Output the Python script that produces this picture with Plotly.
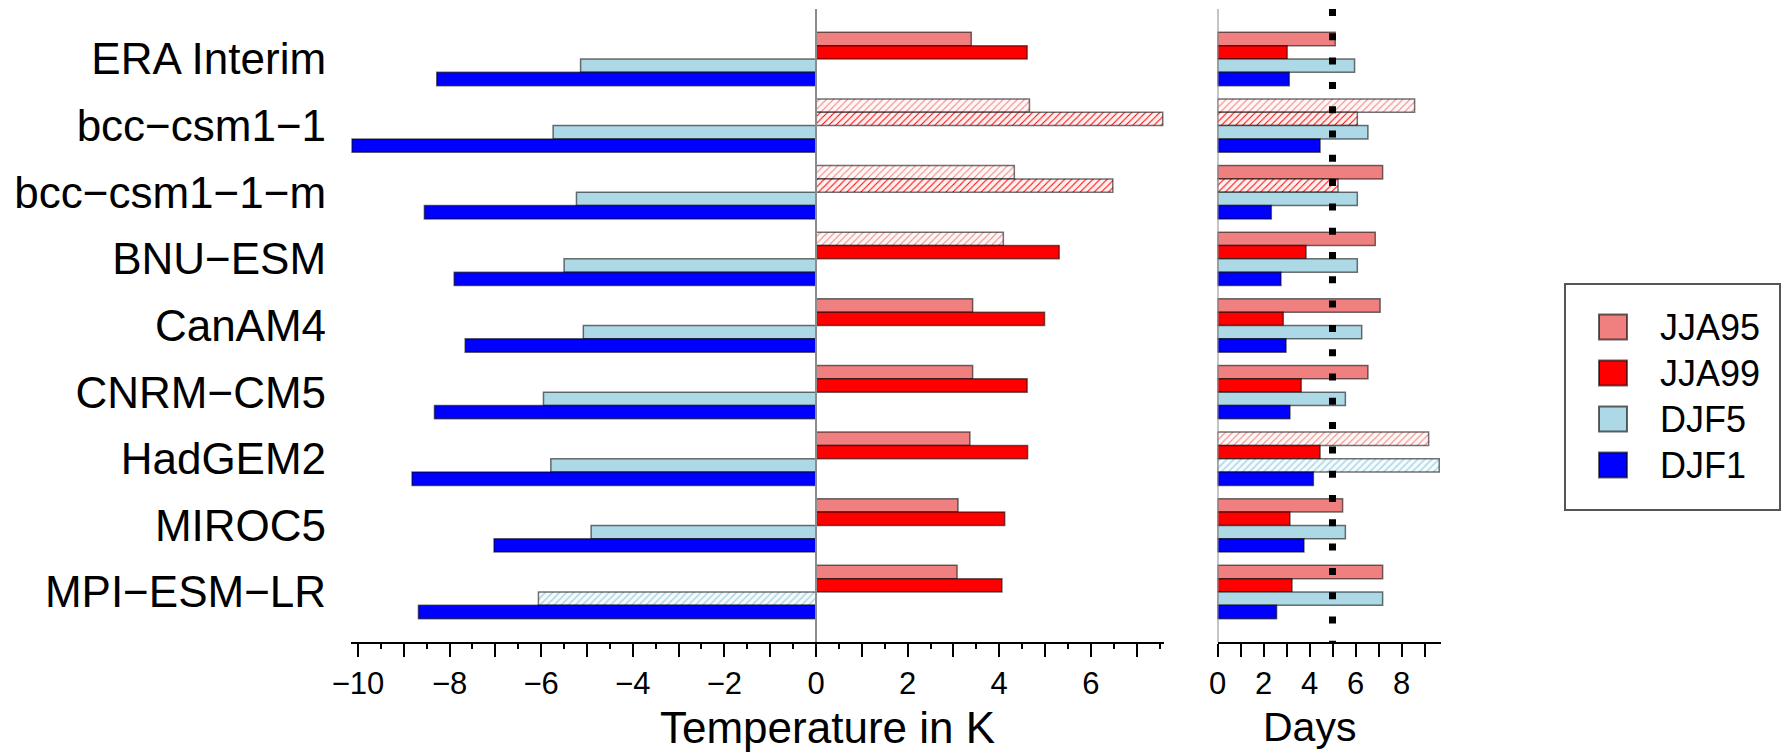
import plotly.graph_objects as go

# ---------------- data ----------------
models = ["ERA Interim", "bcc\u2212csm1\u22121", "bcc\u2212csm1\u22121\u2212m", "BNU\u2212ESM",
          "CanAM4", "CNRM\u2212CM5", "HadGEM2", "MIROC5", "MPI\u2212ESM\u2212LR"]
series = ["JJA95", "JJA99", "DJF5", "DJF1"]
colors = ["#F08080", "#FF0000", "#ADD8E6", "#0000FF"]
hatch_bg = ["#fff6f6", "#fff0f0", "#f6fbfd", "#f0f0ff"]

# temperature (K)
jja95_T = [3.39, 4.66, 4.33, 4.09, 3.42, 3.42, 3.36, 3.10, 3.08]
jja99_T = [4.61, 7.57, 6.48, 5.31, 4.99, 4.61, 4.62, 4.12, 4.06]
djf5_T = [-5.14, -5.74, -5.23, -5.50, -5.08, -5.95, -5.79, -4.91, -6.06]
djf1_T = [-8.28, -10.13, -8.55, -7.90, -7.66, -8.33, -8.82, -7.03, -8.68]
# hatched (1) bars, temperature
jja95_T_hatch = [0, 1, 1, 1, 0, 0, 0, 0, 0]
jja99_T_hatch = [0, 1, 1, 0, 0, 0, 0, 0, 0]
djf5_T_hatch = [0, 0, 0, 0, 0, 0, 0, 0, 1]
djf1_T_hatch = [0, 0, 0, 0, 0, 0, 0, 0, 0]

# duration (days)
jja95_D = [5.12, 8.57, 7.18, 6.86, 7.07, 6.54, 9.18, 5.44, 7.18]
jja99_D = [3.03, 6.08, 5.24, 3.85, 2.86, 3.64, 4.46, 3.15, 3.24]
djf5_D = [5.96, 6.54, 6.08, 6.08, 6.27, 5.56, 9.64, 5.56, 7.18]
djf1_D = [3.12, 4.46, 2.34, 2.76, 2.98, 3.15, 4.17, 3.76, 2.57]
jja95_D_hatch = [0, 1, 0, 0, 0, 0, 1, 0, 0]
jja99_D_hatch = [0, 1, 1, 0, 0, 0, 0, 0, 0]
djf5_D_hatch = [0, 0, 0, 0, 0, 0, 1, 0, 0]
djf1_D_hatch = [0, 0, 0, 0, 0, 0, 0, 0, 0]

days_threshold = 5

temp_ticks = [-10, -8, -6, -4, -2, 0, 2, 4, 6]
days_ticks = [0, 2, 4, 6, 8]

temp_vals = [jja95_T, jja99_T, djf5_T, djf1_T]
temp_hatch = [jja95_T_hatch, jja99_T_hatch, djf5_T_hatch, djf1_T_hatch]
days_vals = [jja95_D, jja99_D, djf5_D, djf1_D]
days_hatch = [jja95_D_hatch, jja99_D_hatch, djf5_D_hatch, djf1_D_hatch]

# ---------------- layout geometry ----------------
W, H = 1786, 756
MT, MB = 9, 114
PH = H - MT - MB
FONT = "Liberation Sans, Arial, Helvetica, sans-serif"


def fx(p):
    return p / W


def fy(p):
    return (H - MB - p) / PH


T_RANGE = [-10.15, 7.6]
D_RANGE = [0, 9.7]
left_dom = [fx(351.1), fx(1164.1)]
right_dom = [fx(1217.5), fx(1217.5 + 9.7 * 23.0)]

hatch_solidity = [0.2, 0.2, 0.3, 0.4]

fig = go.Figure()
for panel, vals, hatch, xa, ya in [(0, temp_vals, temp_hatch, "x", "y"),
                                   (1, days_vals, days_hatch, "x2", "y2")]:
    for i, name in enumerate(series):
        fig.add_trace(go.Bar(
            y=models, x=vals[i], orientation="h", name=name,
            xaxis=xa, yaxis=ya, showlegend=False,
            marker=dict(
                color=colors[i],
                line=dict(color="rgba(0,0,0,0.55)", width=1.5),
                pattern=dict(shape=["/" if h else "" for h in hatch[i]],
                             fgcolor=colors[i], bgcolor=hatch_bg[i],
                             size=5, solidity=hatch_solidity[i],
                             fillmode="replace"),
            ),
        ))


def tick_text(lo, hi, labels):
    vals = list(range(lo, hi + 1))
    return vals, [(str(v).replace("-", "\u2212") if v in labels else "") for v in vals]


tv1, tt1 = tick_text(-10, 7, temp_ticks)
tv2, tt2 = tick_text(0, 9, days_ticks)

axis_common = dict(showline=True, linecolor="black", linewidth=2, ticks="outside",
                   ticklen=13, tickwidth=2, tickcolor="black", showgrid=False,
                   zeroline=False, tickmode="array",
                   tickfont=dict(family=FONT, size=31, color="black"))

fig.update_layout(
    width=W, height=H,
    margin=dict(l=0, r=0, t=MT, b=MB, autoexpand=False),
    paper_bgcolor="white", plot_bgcolor="white",
    barmode="group", bargap=0.2, bargroupgap=0,
    showlegend=False,
    xaxis=dict(domain=left_dom, range=T_RANGE, tickvals=tv1, ticktext=tt1,
               minor=dict(tickmode="linear", tick0=0, dtick=0.5, ticks="outside",
                          ticklen=5, tickwidth=1.5, tickcolor="black"),
               anchor="y", **axis_common),
    xaxis2=dict(domain=right_dom, range=D_RANGE, tickvals=tv2, ticktext=tt2,
                anchor="y2", **axis_common),
    yaxis=dict(domain=[0, 1], type="category", categoryorder="array",
               categoryarray=models, range=[8.75, -0.75], anchor="x",
               showline=False, ticks="", showgrid=False, zeroline=False,
               ticklabelstandoff=24,
               tickfont=dict(family=FONT, size=44, color="black")),
    yaxis2=dict(domain=[0, 1], type="category", categoryorder="array",
                categoryarray=models, range=[8.75, -0.75], anchor="x2",
                showline=False, ticks="", showgrid=False, zeroline=False,
                showticklabels=False),
)

shapes = []
# zero lines of both panels
for xa, ya in [("x", "y domain"), ("x2", "y2 domain")]:
    shapes.append(dict(type="line", xref=xa, yref=ya, x0=0, x1=0, y0=0, y1=1,
                       line=dict(color="#8c8c8c", width=2)))
# dotted threshold line
shapes.append(dict(type="line", xref="x2", yref="y2 domain", x0=days_threshold,
                   x1=days_threshold, y0=1, y1=0,
                   line=dict(color="black", width=7, dash="7px,17.3px")))

# custom legend
shapes.append(dict(type="rect", xref="paper", yref="paper",
                   x0=fx(1565), x1=fx(1780), y0=fy(510), y1=fy(284),
                   line=dict(color="#555555", width=2), fillcolor="white", layer="below"))
annotations = []
legend_y = [327, 373, 419, 465]
for i, name in enumerate(series):
    cy = legend_y[i]
    shapes.append(dict(type="rect", xref="paper", yref="paper",
                       x0=fx(1599), x1=fx(1627), y0=fy(cy + 12.5), y1=fy(cy - 12.5),
                       fillcolor=colors[i], line=dict(color="rgba(0,0,0,0.6)", width=2)))
    annotations.append(dict(text=name, xref="paper", yref="paper", x=fx(1658), y=fy(cy),
                            xanchor="left", yanchor="middle", showarrow=False,
                            font=dict(family=FONT, size=36, color="black")))

# axis titles
annotations.append(dict(text="Temperature in K", xref="paper", yref="paper",
                        x=fx(827), y=fy(727), xanchor="center", yanchor="middle",
                        showarrow=False, font=dict(family=FONT, size=44, color="black")))
annotations.append(dict(text="Days", xref="paper", yref="paper",
                        x=fx(1309), y=fy(727), xanchor="center", yanchor="middle",
                        showarrow=False, font=dict(family=FONT, size=41, color="black")))

fig.update_layout(shapes=shapes, annotations=annotations)
fig.write_html("out.html")
